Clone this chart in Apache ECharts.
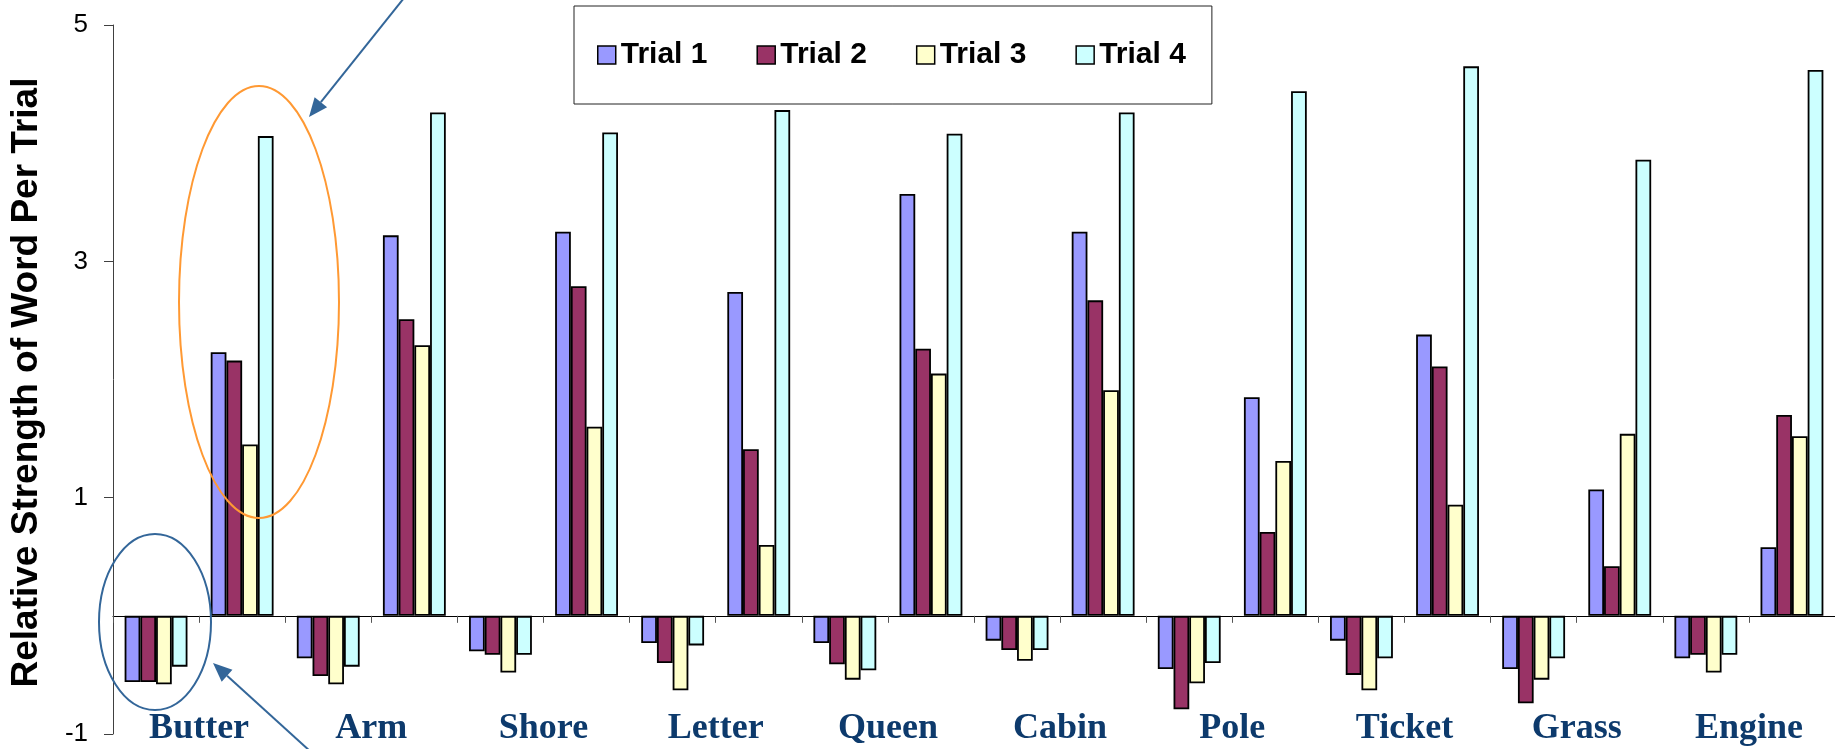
<!DOCTYPE html>
<html>
<head>
<meta charset="utf-8">
<script src="https://cdn.jsdelivr.net/npm/echarts@6/dist/echarts.min.js"></script>
<style>
html, body { margin: 0; padding: 0; background: #fff; }
#chart { width: 1835px; height: 749px; }
</style>
</head>
<body>
<div id="chart"></div>
<script>
var myChart = echarts.init(document.getElementById('chart'));

var words = ['Butter', 'Arm', 'Shore', 'Letter', 'Queen', 'Cabin', 'Pole', 'Ticket', 'Grass', 'Engine'];
var trialNames = ['Trial 1', 'Trial 2', 'Trial 3', 'Trial 4'];
// each word has a group below zero (left) and a group above zero (right)
var trial1Neg = [-0.56, -0.36, -0.30, -0.23, -0.23, -0.21, -0.45, -0.21, -0.45, -0.36];
var trial1Pos = [2.23, 3.22, 3.25, 2.74, 3.57, 3.25, 1.85, 2.38, 1.07, 0.58];
var trial2Neg = [-0.56, -0.51, -0.33, -0.40, -0.41, -0.29, -0.79, -0.50, -0.74, -0.33];
var trial2Pos = [2.16, 2.51, 2.79, 1.41, 2.26, 2.67, 0.71, 2.11, 0.42, 1.70];
var trial3Neg = [-0.58, -0.58, -0.48, -0.63, -0.54, -0.38, -0.57, -0.63, -0.54, -0.48];
var trial3Pos = [1.45, 2.29, 1.60, 0.60, 2.05, 1.91, 1.31, 0.94, 1.54, 1.52];
var trial4Neg = [-0.43, -0.43, -0.33, -0.25, -0.46, -0.29, -0.40, -0.36, -0.36, -0.33];
var trial4Pos = [4.06, 4.26, 4.09, 4.28, 4.08, 4.26, 4.44, 4.65, 3.86, 4.62];
var yTicks = [-1, 1, 3, 5];

var colors = ['#9999ff', '#993366', '#ffffcc', '#ccffff'];

function interleave(neg, pos) {
    var out = [];
    for (var i = 0; i < neg.length; i++) {
        out.push(neg[i]);
        out.push(pos[i]);
    }
    return out;
}

var slots = [];
for (var i = 0; i < words.length * 2; i++) {
    slots.push(String(i));
}

var trialData = [
    interleave(trial1Neg, trial1Pos),
    interleave(trial2Neg, trial2Pos),
    interleave(trial3Neg, trial3Pos),
    interleave(trial4Neg, trial4Pos)
];

var series = [];
for (var s = 0; s < trialNames.length; s++) {
    series.push({
        name: trialNames[s],
        type: 'bar',
        xAxisIndex: 0,
        data: trialData[s],
        barGap: '0%',
        barCategoryGap: '27%',
        itemStyle: {
            color: colors[s],
            borderColor: '#000',
            borderWidth: 1.8
        }
    });
}

// arrow annotation: shaft plus a filled head at (x2, y2)
function arrow(x1, y1, x2, y2, color) {
    var dx = x2 - x1, dy = y2 - y1;
    var len = Math.sqrt(dx * dx + dy * dy);
    var ux = dx / len, uy = dy / len;
    var hl = 19, hw = 8;
    var bx = x2 - ux * hl, by = y2 - uy * hl;
    return [{
        type: 'line',
        shape: {x1: x1, y1: y1, x2: bx, y2: by},
        style: {stroke: color, lineWidth: 2}
    }, {
        type: 'polygon',
        shape: {points: [[x2, y2], [bx - uy * hw, by + ux * hw], [bx + uy * hw, by - ux * hw]]},
        style: {fill: color}
    }];
}

var graphics = [{
    type: 'ellipse',
    shape: {cx: 259, cy: 302, rx: 80, ry: 216},
    style: {fill: 'none', stroke: '#ff9933', lineWidth: 2},
    z: 100
}, {
    type: 'ellipse',
    shape: {cx: 155, cy: 622, rx: 56, ry: 88},
    style: {fill: 'none', stroke: '#336699', lineWidth: 2},
    z: 100
}].concat(arrow(404, -2, 309, 117, '#336699'), arrow(311, 752, 213, 663, '#336699'));

myChart.setOption({
    backgroundColor: '#fff',
    animation: false,
    textStyle: {fontFamily: 'Liberation Sans'},
    legend: {
        data: trialNames,
        left: 574,
        top: 6,
        padding: [34, 26, 34, 23],
        itemGap: 49,
        itemWidth: 18,
        itemHeight: 18,
        borderColor: '#222',
        borderWidth: 1,
        selectedMode: false,
        icon: 'rect',
        itemStyle: {borderColor: '#000', borderWidth: 1.5},
        textStyle: {
            fontSize: 30,
            fontWeight: 'bold',
            color: '#000',
            fontFamily: 'Liberation Sans'
        }
    },
    grid: {
        left: 112,
        top: 25,
        width: 1726,
        height: 709
    },
    xAxis: [{
        type: 'category',
        data: slots,
        position: 'bottom',
        axisLine: {onZero: true, lineStyle: {color: '#000', width: 1}},
        axisTick: {show: true, length: 7, lineStyle: {color: '#555'}},
        axisLabel: {show: false},
        splitLine: {show: false}
    }, {
        type: 'category',
        data: words,
        position: 'bottom',
        offset: -23,
        axisLine: {show: false, onZero: false},
        axisTick: {show: false},
        axisLabel: {
            interval: 0,
            margin: 0,
            fontFamily: 'Liberation Serif',
            fontWeight: 'bold',
            fontSize: 36,
            color: '#0d3a6c'
        },
        splitLine: {show: false}
    }],
    yAxis: {
        type: 'value',
        min: yTicks[0],
        max: yTicks[yTicks.length - 1],
        interval: yTicks[1] - yTicks[0],
        name: 'Relative Strength of Word Per Trial',
        nameLocation: 'middle',
        nameGap: 68,
        nameTextStyle: {
            fontSize: 37,
            fontWeight: 'bold',
            color: '#000',
            fontFamily: 'Liberation Sans',
            padding: [0, 6, 0, 0]
        },
        axisLine: {show: true, lineStyle: {color: '#404040', width: 1}},
        axisTick: {show: true, length: 9, lineStyle: {color: '#404040'}},
        axisLabel: {
            margin: 25,
            fontSize: 26,
            color: '#000',
            fontFamily: 'Liberation Sans'
        },
        splitLine: {show: false}
    },
    series: series,
    graphic: graphics
});
</script>
</body>
</html>
